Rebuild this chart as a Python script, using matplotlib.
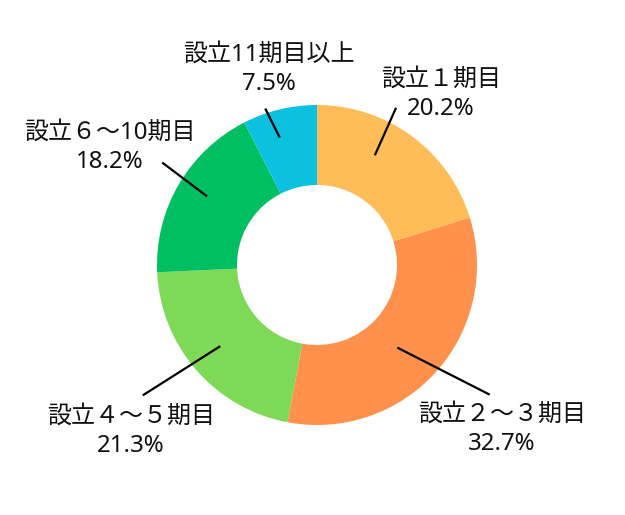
import numpy as np
import matplotlib
matplotlib.use("Agg")
import matplotlib.pyplot as plt

# ---- data ----
categories = ["設立１期目", "設立２～３期目", "設立４～５期目", "設立６～10期目", "設立11期目以上"]
values = [20.2, 32.7, 21.3, 18.2, 7.5]
colors = ["#FFBD59", "#FF914D", "#7ED957", "#00BF63", "#0CC0DF"]

# ---- layout (pixel-based, converted to data units) ----
W, H = 625, 515
CX, CY, R = 317, 265, 160

def to_data(px, py):
    return (px - CX) / R, (CY - py) / R

# leader line: (angle offset from slice middle in deg, inner radius, outer angle deg, outer radius)
leader = [(8.6, 0.775, 63.3, 1.10),
          (-4.1, 0.72, -36.9, 1.35),
          (-1.0, 0.79, 216.8, 1.36),
          (-1.8, 0.81, 146.5, 1.16),
          (2.8, 0.83, 108.3, 1.03)]
# label block centres in pixels
label_pos = [(441, 94), (502, 429), (131, 431), (110, 147), (269, 69)]

fig = plt.figure(figsize=(W / 100, H / 100), dpi=100)
ax = fig.add_axes([0, 0, 1, 1])

wedges, _ = ax.pie(values, colors=colors, startangle=90, counterclock=False,
                   radius=1.0, wedgeprops=dict(width=0.5, linewidth=0),
                   normalize=True)
ax.set_xlim(-CX / R, (W - CX) / R)
ax.set_ylim(-(H - CY) / R, CY / R)
ax.set_aspect("equal")
ax.axis("off")

font = ["Noto Sans", "Noto Sans CJK JP", "DejaVu Sans"]
total = sum(values)
for w, cat, val, ld, lp in zip(wedges, categories, values, leader, label_pos):
    mid = (w.theta1 + w.theta2) / 2
    a_in = np.deg2rad(mid + ld[0])
    a_out = np.deg2rad(ld[2])
    x0, y0 = ld[1] * np.cos(a_in), ld[1] * np.sin(a_in)
    x1, y1 = ld[3] * np.cos(a_out), ld[3] * np.sin(a_out)
    ax.plot([x0, x1], [y0, y1], color="black", lw=1.6, solid_capstyle="butt")
    tx, ty = to_data(*lp)
    ax.text(tx, ty, f"{cat}\n{val / total * 100:.1f}%", ha="center", va="center",
            fontsize=17.3, family=font, linespacing=1.3, color="#111111")

fig.savefig("out.png", dpi=100)
